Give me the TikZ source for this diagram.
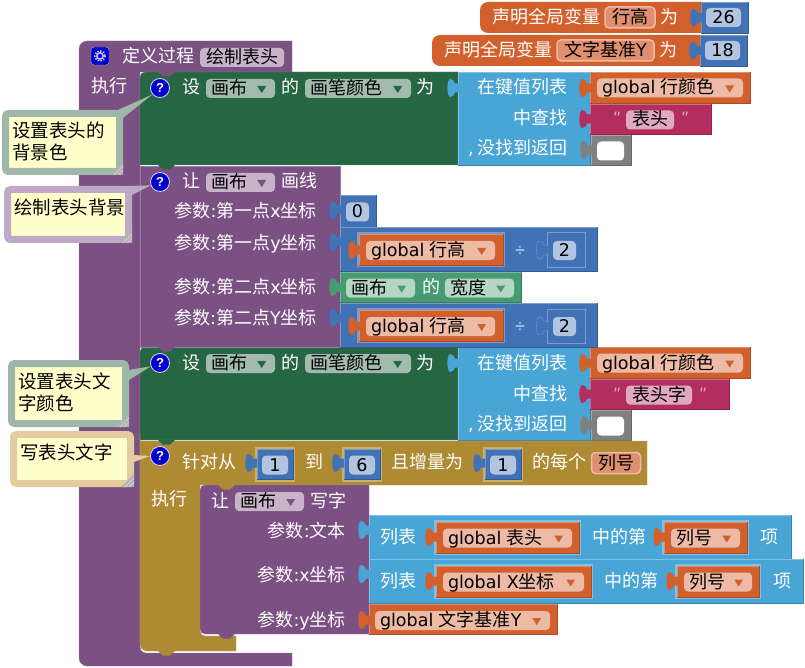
\documentclass[tikz,border=0pt]{standalone}
\usepackage{fontspec}
\setmainfont{Noto Sans CJK SC}
\newfontfamily\latfont{DejaVu Sans}
\newfontfamily\markfont{Liberation Sans}
\newcommand{\lat}[1]{{\latfont\fontsize{17.5}{22}\selectfont #1}}

\definecolor{procpurple}{HTML}{7B5083}
\definecolor{pentint}{HTML}{A2BBAE}
\definecolor{pengreen}{HTML}{266642}
\definecolor{listblue}{HTML}{49A5D6}
\definecolor{numblue}{HTML}{4072B5}
\definecolor{numtint}{HTML}{B1C4E0}
\definecolor{varorange}{HTML}{D2602C}
\definecolor{vartint}{HTML}{EDBBA5}
\definecolor{decltint}{HTML}{E08F6E}
\definecolor{strred}{HTML}{B32D5E}
\definecolor{strtint}{HTML}{E0A8C1}
\definecolor{forolive}{HTML}{AE8A33}
\definecolor{fortint}{HTML}{C9B072}
\definecolor{canvteal}{HTML}{479A71}
\definecolor{canvtint}{HTML}{B5D6C5}
\definecolor{purtint}{HTML}{C8B3CB}
\definecolor{blankgray}{HTML}{808080}
\definecolor{noteyellow}{HTML}{FFFFCC}
\definecolor{notegreen}{HTML}{9FB7A8}
\definecolor{notepurple}{HTML}{C0A9C6}
\definecolor{notetan}{HTML}{E3CD9E}
\definecolor{helpblue}{HTML}{0000CC}

% value block with light top edge and dark bottom edge
\newcommand{\vblock}[5]{
  \fill[#1] (#2,#3) rectangle (#4,#5);
  \draw[#1!70!white] (#2,#5) -- (#2,#3) -- (#4,#3);
  \draw[#1!80!black] (#2,#5) -- (#4,#5) -- (#4,#3);
}
% field with drop-down arrow: name, tint, arrow colour, left, right, mid y, text
\newcommand{\dropfield}[7]{
  \node (#1) at ({((#4)+(#5))/2},#6) [fieldbox, fill=#2, minimum width={(#5)*1pt-(#4)*1pt}] {};
  \node (#1txt) at ([xshift=5pt]#1.west) [fldtxt] {#7};
  \fill[#3] ([xshift=-18pt,yshift=2.5pt]#1.east) -- ++(9,0) -- ++(-4.5,7) -- cycle;
}
% field without arrow: name, tint, left, right, mid y, text
\newcommand{\plainfield}[6]{
  \node (#1) at ({((#3)+(#4))/2},#5) [fieldbox, fill=#2, minimum width={(#4)*1pt-(#3)*1pt}, fldtxt, anchor=center] {#6};
}

\begin{document}
\begin{tikzpicture}[x=1pt,y=-1pt]
\useasboundingbox (0,0) rectangle (805,668);

\tikzstyle{lbl} = [text=white, font=\fontsize{18}{22}\selectfont, inner sep=0pt, text height=14.5pt, text depth=2.5pt, anchor=west]
\tikzstyle{lblr} = [lbl, anchor=east]
\tikzstyle{fldtxt} = [lbl, text=black]
\tikzstyle{fieldbox} = [shape=rectangle, rounded corners=4pt, minimum height=19pt, inner sep=0pt]
\tikzstyle{helpdot} = [shape=circle, fill=helpblue, draw=white!85!helpblue, line width=0.8pt, minimum size=19pt, inner sep=0pt, text=white, font=\markfont\bfseries\fontsize{13}{13}\selectfont]
\tikzstyle{note} = [shape=rectangle, fill=noteyellow, line width=7pt, rounded corners=3pt, inner sep=0pt]
\tikzstyle{notetxt} = [anchor=west, align=left, inner sep=0pt, font=\fontsize{18.5}{22}\selectfont]
\tikzset{tabpiece/.pic={\path[pic actions] (1,-4.5) -- (-3,-4.5) .. controls (-4,-7) and (-5,-9) .. (-8,-9) .. controls (-11.5,-8) and (-11.5,8) .. (-8,9) .. controls (-5,9) and (-4,7) .. (-3,4.5) -- (1,4.5) -- cycle;}}

% Global declarations
\foreach \r/\left/\ytop/\word/\fa/\fb/\wx/\num in {1/480/2/行高/605/655/660/26, 2/432/35/文字基准\lat{Y}/557/654/659/18}{
  \pgfmathsetmacro\ybot{\ytop+31}
  \pgfmathsetmacro\ymid{\ytop+15.5}
  \pgfmathsetmacro\xr{\wx+41}
  \vblock{numblue}{\xr}{\ytop}{\xr+47}{\ybot}
  \fill[varorange] (\xr,\ytop) -- (\xr,\ybot) [rounded corners=8pt] -- (\left,\ybot) -- (\left,\ytop) [sharp corners] -- cycle;
  \pic[fill=numblue] at (\xr,\ymid) {tabpiece};
  \node (decl\r) at (\left+12,\ymid) [lbl] {声明全局变量};
  \node (declname\r) at ({(\fa+\fb)/2},\ymid) [fieldbox, fill=decltint, draw=vartint, line width=1.5pt, minimum width={\fb*1pt-\fa*1pt}, minimum height=21pt, fldtxt, anchor=center] {\word};
  \node (declas\r) at (\wx,\ymid) [lbl] {为};
  \plainfield{declnum\r}{numtint}{\xr+5}{\xr+40}{\ymid}{\lat{\num}}
}

% Procedure block
\draw[fill=procpurple, draw=procpurple!75!white] (292,41) -- (292,72) -- (140,72) [rounded corners=6pt] -- (140,653) [sharp corners] -- (292,653) -- (292,666) [rounded corners=8pt] -- (79,666) -- (79,41) [sharp corners] -- cycle;
\node (gear) at (100,56) [shape=rectangle, rounded corners=3pt, fill=helpblue, draw=purtint, minimum size=18pt, inner sep=0pt] {};
\draw[white!80!helpblue, line width=1.5pt] (gear.center) circle (3.2);
\draw[white!80!helpblue, line width=1.5pt, dash pattern=on 1.5pt off 1.5pt] (gear.center) circle (5.2);
\node (defproc) at (122,57) [lbl] {定义过程};
\plainfield{procname}{purtint}{200}{284}{57.5}{绘制表头}
\node (procdo) at (91,87) [lbl] {执行};

% Two set-pen-colour blocks, same apart from the key
\foreach \r/\dy/\mr/\word/\fb/\qx in {1/0/711/表头/674/684, 2/275/729/表头字/692/702}{
\begin{scope}[yshift=-\dy pt]
  \draw[fill=pengreen, draw=pengreen!70!white, rounded corners=5pt] (140,165) [sharp corners] -- (140,165) [rounded corners=5pt] -- (140,72) [sharp corners] -- (458,72) -- (458,165) -- cycle;
  \vblock{listblue}{458}{72}{590}{165}
  \pic[fill=listblue] at (458,88) {tabpiece};
  \node (set\r) at (182,88) [lbl] {设};
  \dropfield{penobj\r}{pentint}{pengreen}{206}{275}{88.5}{画布}
  \node (of\r) at (281,88) [lbl] {的};
  \dropfield{penprop\r}{pentint}{pengreen}{305}{411}{88.5}{画笔颜色}
  \node (as\r) at (416,88) [lbl] {为};
  \node (inlist\r) at (568,88) [lblr] {在键值列表};
  \node (find\r) at (568,119) [lblr] {中查找};
  \node (none\r) at (568,149) [lblr] {\lat{,} 没找到返回};
  \vblock{varorange}{590}{72}{750}{103}
  \pic[fill=varorange] at (590,88) {tabpiece};
  \dropfield{colvar\r}{vartint}{varorange}{597}{743}{88}{\lat{global }行颜色}
  \vblock{strred}{590}{104}{\mr}{134}
  \pic[fill=strred] at (590,119) {tabpiece};
  \node (ql\r) at (616,119) [lbl, anchor=center, text=strtint, font=\markfont\itshape\fontsize{18}{22}\selectfont] {"};
  \plainfield{key\r}{strtint}{626}{\fb}{120}{\word}
  \node (qr\r) at (\qx,119) [lbl, anchor=center, text=strtint, font=\markfont\itshape\fontsize{18}{22}\selectfont] {"};
  \vblock{blankgray}{591}{135}{631}{165}
  \pic[fill=blankgray] at (591,150) {tabpiece};
  \plainfield{empty\r}{white}{597}{624}{151}{}
\end{scope}
}

% Draw-line block
\draw[fill=procpurple, draw=procpurple!75!white] (140,166) -- (340,166) -- (340,347) -- (140,347) -- cycle;
\node (let1) at (182,182) [lbl] {让};
\dropfield{lineobj}{purtint}{procpurple}{206}{275}{182.5}{画布}
\node (drawline) at (281,182) [lbl] {画线};
\node (argxa) at (317,212) [lblr] {参数\lat{:}第一点\lat{x}坐标};
\node (argya) at (317,243) [lblr] {参数\lat{:}第一点\lat{y}坐标};
\node (argxb) at (317,287) [lblr] {参数\lat{:}第二点\lat{x}坐标};
\node (argyb) at (317,318) [lblr] {参数\lat{:}第二点\lat{Y}坐标};

\vblock{numblue}{340}{195}{376}{227}
\pic[fill=numblue] at (340,210) {tabpiece};
\plainfield{zero}{numtint}{346}{369}{212}{\lat{0}}

% global row height / 2, twice
\foreach \r/\ytop in {1/227, 2/303}{
\begin{scope}[yshift=-\ytop pt]
  \vblock{numblue}{340}{0}{597}{44}
  \pic[fill=numblue] at (340,15) {tabpiece};
  \fill[numblue!70!white] (357,5) rectangle (505,40);
  \vblock{varorange}{359}{7}{503}{38}
  \pic[fill=varorange] at (359,23) {tabpiece};
  \dropfield{rowh\r}{vartint}{varorange}{366}{495}{23.5}{\lat{global }行高}
  \node (divide\r) at (520,23) [lbl, anchor=center, font=\markfont\fontsize{18}{22}\selectfont, text=white!80!numblue] {÷};
  \draw[numblue!70!white, line width=1pt] (547,6) rectangle (585,40);
  \pic[fill=numblue, draw=numblue!70!white] at (547,23) {tabpiece};
  \plainfield{two\r}{numtint}{553}{576}{23.5}{\lat{2}}
\end{scope}
}

\vblock{canvteal}{340}{272}{521}{302}
\pic[fill=canvteal] at (340,287) {tabpiece};
\dropfield{widthobj}{canvtint}{canvteal}{346}{415}{288}{画布}
\node (widthof) at (422,287) [lbl] {的};
\dropfield{widthprop}{canvtint}{canvteal}{445}{514}{288}{宽度}

% For-each block
\draw[fill=forolive, draw=forolive!75!white] (140,441) -- (647,441) -- (647,485) -- (200,485) [rounded corners=5pt] -- (200,636) [sharp corners] -- (236,636) -- (236,651) [rounded corners=7pt] -- (140,651) -- (140,441) [sharp corners] -- cycle;
\node (forfrom) at (182,462) [lbl] {针对从};
\node (forto) at (305,462) [lbl] {到};
\node (forstep) at (391,462) [lbl] {且增量为};
\node (foreach) at (532,462) [lbl] {的每个};
\node (fordo) at (151,499) [lbl] {执行};
\node (forvar) at (616,463) [fieldbox, fill=decltint, draw=vartint, line width=1.5pt, minimum width=49pt, minimum height=21pt, fldtxt, anchor=center] {列号};
\foreach \r/\nx/\num in {a/255/1, b/342/6, c/483/1}{
  \fill[fortint] (\nx,447) rectangle (\nx+40,482);
  \vblock{numblue}{\nx+2}{449}{\nx+38}{479}
  \pic[fill=numblue] at (\nx+1,463) {tabpiece};
  \plainfield{for\r}{numtint}{\nx+7}{\nx+33}{465}{\lat{\num}}
}

% Draw-text block
\draw[fill=procpurple, draw=procpurple!75!white] (369,485) -- (369,634) [rounded corners=5pt] -- (200,634) -- (200,485) [sharp corners] -- cycle;
\node (let2) at (211,501) [lbl] {让};
\dropfield{textobj}{purtint}{procpurple}{235}{304}{501.5}{画布}
\node (drawtext) at (310,501) [lbl] {写字};
\node (argtext) at (346,531) [lblr] {参数\lat{:}文本};
\node (argtx) at (346,575) [lblr] {参数\lat{:}\lat{x}坐标};
\node (argty) at (346,620) [lblr] {参数\lat{:}\lat{y}坐标};

% select-item rows
\foreach \r/\ytop/\xr/\na/\ca/\cb/\wordb/\xw/\xx in {1/515/791/579/664/747/\lat{global }表头/592/760, 2/559/803/591/677/759/\lat{global X}坐标/604/773}{
  \pgfmathsetmacro\ybot{\ytop+44}
  \pgfmathsetmacro\ymid{\ytop+22}
  \vblock{listblue}{369}{\ytop}{\xr}{\ybot}
  \pic[fill=listblue] at (369,\ytop+15) {tabpiece};
  \node (list\r) at (380,\ymid) [lbl] {列表};
  \fill[listblue!70!white] (434,\ytop+5) rectangle (\na+2,\ytop+40);
  \vblock{varorange}{436}{\ytop+7}{\na}{\ytop+38}
  \pic[fill=varorange] at (436,\ymid) {tabpiece};
  \dropfield{listvar\r}{vartint}{varorange}{443}{\na-7}{\ymid+1}{\wordb}
  \node (inof\r) at (\xw,\ymid) [lbl] {中的第};
  \fill[listblue!70!white] (\ca-2,\ytop+5) rectangle (\cb+2,\ytop+40);
  \vblock{varorange}{\ca}{\ytop+7}{\cb}{\ytop+38}
  \pic[fill=varorange] at (\ca,\ymid) {tabpiece};
  \dropfield{idx\r}{vartint}{varorange}{\ca+7}{\cb-7}{\ymid+1}{列号}
  \node (item\r) at (\xx,\ymid) [lbl] {项};
}
\vblock{varorange}{369}{604}{557}{634}
\pic[fill=varorange] at (369,620) {tabpiece};
\dropfield{basey}{vartint}{varorange}{375}{550}{620.5}{\lat{global }文字基准\lat{Y}}

% Bumps under statement blocks
\foreach \bx/\by/\bc in {158/72/procpurple, 158/165/pengreen, 158/347/procpurple, 158/440/pengreen, 158/651/forolive, 218/485/forolive, 218/634/procpurple}{
  \fill[\bc] (\bx,\by) -- ++(5,4.5) -- ++(7,0) -- ++(5,-4.5) -- cycle;
}

% Comments
\foreach \r/\iy in {1/88, 2/182, 3/363, 4/456}{
  \node (help\r) at (160,\iy) [helpdot] {?};
}
\node (note1) at (62.5,142.5) [note, draw=notegreen, minimum width=114pt, minimum height=58pt] {};
\node (note2) at (68,214.5) [note, draw=notepurple, minimum width=121pt, minimum height=50pt] {};
\node (note3) at (68.5,393.5) [note, draw=notegreen, minimum width=114pt, minimum height=60pt] {};
\node (note4) at (72,459) [note, draw=notetan, minimum width=117pt, minimum height=49pt] {};
\fill[notegreen] (help1.220) -- ([xshift=-5pt]note1.north east) -- ([yshift=-8pt]note1.north east) -- cycle;
\fill[notepurple] (help2.200) -- ([xshift=-5pt]note2.north east) -- ([yshift=-9pt]note2.north east) -- cycle;
\fill[notegreen] (help3.200) -- ([xshift=-1pt,yshift=-10pt]note3.north east) -- ([yshift=-20pt]note3.north east) -- cycle;
\fill[notetan] (help4.west) -- ([yshift=-24pt]note4.north east) -- ([yshift=-31pt]note4.north east) -- cycle;
\node (note1txt) at (12,141) [notetxt] {设置表头的\\背景色};
\node (note2txt) at (14,207) [notetxt] {绘制表头背景};
\node (note3txt) at (18,392) [notetxt] {设置表头文\\字颜色};
\node (note4txt) at (20,452) [notetxt] {写表头文字};
\foreach \n in {note1, note2, note3, note4}{
  \fill[black!30] (\n.south east) -- ++(-13,0) -- ++(13,-13) -- cycle;
  \draw[white!85!black, line width=0.7pt] ([xshift=-9pt]\n.south east) -- ([yshift=9pt]\n.south east);
  \draw[white!85!black, line width=0.7pt] ([xshift=-5pt]\n.south east) -- ([yshift=5pt]\n.south east);
}
\end{tikzpicture}
\end{document}
